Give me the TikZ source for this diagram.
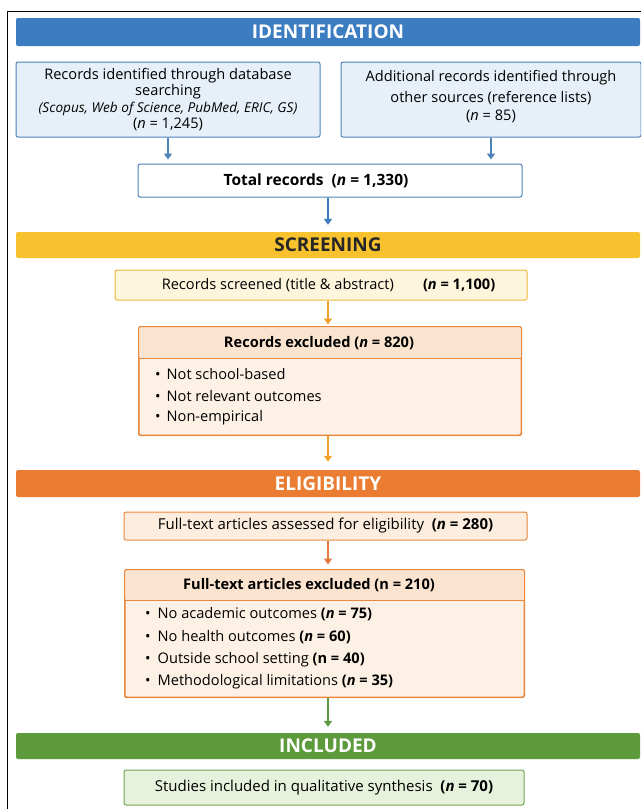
\documentclass[tikz,border=0pt]{standalone}
\usepackage{fontspec}
\setmainfont{Open Sans}
\usetikzlibrary{arrows.meta}
\definecolor{idblue}{HTML}{3C7DC2}
\definecolor{idline}{HTML}{4E82BA}
\definecolor{idfill}{HTML}{E7F0F9}
\definecolor{scyel}{HTML}{F8C22E}
\definecolor{scline}{HTML}{F0B73A}
\definecolor{scfill}{HTML}{FEF5DD}
\definecolor{elor}{HTML}{EA7D31}
\definecolor{elline}{HTML}{E8883E}
\definecolor{elfill}{HTML}{FDF1E5}
\definecolor{elhead}{HTML}{FBE4CF}
\definecolor{scarrow}{HTML}{F3A02C}
\definecolor{elarrow}{HTML}{E2773A}
\definecolor{ingreen}{HTML}{5C9A3C}
\definecolor{inline}{HTML}{73A452}
\definecolor{infill}{HTML}{E7F2DC}
\begin{document}
\begin{tikzpicture}[x=1pt,y=-1pt,
  band/.style={rectangle, rounded corners=2pt, minimum width=624pt, inner sep=0pt, font=\fontsize{19}{22}\selectfont\bfseries},
  box/.style={rectangle, rounded corners=2pt, line width=1pt, inner sep=0pt, align=center, font=\fontsize{14.6}{16.3}\selectfont},
  txt/.style={inner sep=0pt, align=center, font=\fontsize{14.6}{16.3}\selectfont},
  arr/.style={-{Triangle[width=8pt,length=6pt]}, line width=1.6pt}]
\useasboundingbox (0,0) rectangle (641,809);
\clip (0,0) rectangle (641,809);
\fill[white] (0,0) rectangle (641,809);
\draw[line width=0.8pt] (7,809) -- (7,11) -- (641,11);
% bands
\node[band, fill=idblue, text=white, minimum height=28pt] (idb) at (328,32) {IDENTIFICATION};
\node[band, fill=scyel, text=black!85, minimum height=26pt] (scb) at (328,245) {SCREENING};
\node[band, fill=elor, text=white, minimum height=27pt] (elb) at (328,483.5) {ELIGIBILITY};
\node[band, fill=ingreen, text=white, minimum height=26pt] (inb) at (328,746) {INCLUDED};
% identification
\node[box, draw=idline, fill=idfill, minimum width=304pt, minimum height=75pt] (b1) at (168,99.5)
  {Records identified through database\\ searching\\ {\fontsize{13.6}{16}\selectfont\itshape (Scopus, Web of Science, PubMed, ERIC, GS)}\\ (\textit{n} = 1,245)};
\node[box, draw=idline, fill=idfill, minimum width=300pt, minimum height=75pt] (b2) at (491,99.5) {};
\node[txt] (b2t) at (491,96.5)
  {Additional records identified through\\[5pt] other sources (reference lists)\\[2pt] (\textit{n} = 85)};
\node[box, draw=idline, fill=white, minimum width=384pt, minimum height=33pt] (tot) at (330,180.5) {};
\node[txt, font=\fontsize{15.5}{17}\selectfont\bfseries] (tott) at (316,181)
  {Total records\ \ (\textit{n} = 1,330)};
% screening
\node[box, draw=scline, fill=scfill, minimum width=412pt, minimum height=30pt] (scr) at (321,285) {};
\node[txt] (scrt) at (328.5,285)
  {Records screened (title \& abstract)\qquad\textbf{(\textit{n} = 1,100)}};
\node[box, draw=elline, fill=elfill, minimum width=382pt, minimum height=108pt] (ex1) at (330,381) {};
\fill[elhead, rounded corners=2pt] ([shift={(0.5pt,-0.5pt)}]ex1.north west) rectangle ([shift={(-0.5pt,0pt)}]ex1.east |- 0,358);
\draw[elline, line width=1pt] (ex1.west |- 0,358) -- (ex1.east |- 0,358);
\draw[elline, line width=1pt, rounded corners=2pt] (ex1.north west) rectangle (ex1.south east);
\node[txt, font=\fontsize{14.6}{16.3}\selectfont\bfseries] (ex1h) at (319,343) {Records excluded (\textit{n} = 820)};
\node[txt, anchor=west] (ex1a) at (155,374) {\textbullet\hspace{6pt}Not school-based};
\node[txt, anchor=west] (ex1b) at (155,396) {\textbullet\hspace{6pt}Not relevant outcomes};
\node[txt, anchor=west] (ex1c) at (155,418) {\textbullet\hspace{6pt}Non-empirical};
% eligibility
\node[box, draw=elline, fill=elfill!70!elhead, minimum width=403pt, minimum height=28pt, font=\fontsize{15}{17}\selectfont] (ft) at (325.5,526)
  {Full-text articles assessed for eligibility\ \ \textbf{(\textit{n} = 280)}};
\node[box, draw=elline, fill=elfill, minimum width=399pt, minimum height=127pt] (ex2) at (324.5,633.5) {};
\fill[elhead, rounded corners=2pt] ([shift={(0.5pt,-0.5pt)}]ex2.north west) rectangle ([shift={(-0.5pt,0pt)}]ex2.east |- 0,600);
\draw[elline, line width=1pt] (ex2.west |- 0,600) -- (ex2.east |- 0,600);
\draw[elline, line width=1pt, rounded corners=2pt] (ex2.north west) rectangle (ex2.south east);
\node[txt, font=\fontsize{14.6}{16.3}\selectfont\bfseries] (ex2h) at (309,585) {Full-text articles excluded\ (n = 210)};
\node[txt, anchor=west] (ex2a) at (145,614) {\textbullet\hspace{7pt}No academic outcomes\ \textbf{(\textit{n} = 75)}};
\node[txt, anchor=west] (ex2b) at (145,637) {\textbullet\hspace{7pt}No health outcomes\ \textbf{(\textit{n} = 60)}};
\node[txt, anchor=west] (ex2c) at (145,660) {\textbullet\hspace{7pt}Outside school setting\ \textbf{(n = 40)}};
\node[txt, anchor=west] (ex2d) at (145,682) {\textbullet\hspace{7pt}Methodological limitations\ \textbf{(\textit{n} = 35)}};
% included
\node[box, draw=inline, fill=infill, minimum width=400pt, minimum height=35pt, font=\fontsize{15}{17}\selectfont] (st) at (324,787.5)
  {Studies included in qualitative synthesis\ \ \textbf{(\textit{n} = 70)}};
% arrows
\draw[arr, idline, shorten >=4pt] (b1.south) -- (b1.south |- tot.north);
\draw[arr, idline, shorten >=4pt] (b2.south) -- (b2.south |- tot.north);
\draw[arr, idblue, shorten >=7pt] (scb.north |- tot.south) -- (scb.north);
\draw[arr, scarrow, shorten >=2pt] (scb.south |- scr.south) -- (scb.south |- ex1.north);
\draw[arr, scarrow, shorten >=8pt] (elb.north |- ex1.south) -- (elb.north);
\draw[arr, elarrow, shorten >=5pt] (elb.south |- ft.south) -- (elb.south |- ex2.north);
\draw[arr, ingreen, shorten >=6pt] (inb.north |- ex2.south) -- (inb.north);
\end{tikzpicture}
\end{document}
